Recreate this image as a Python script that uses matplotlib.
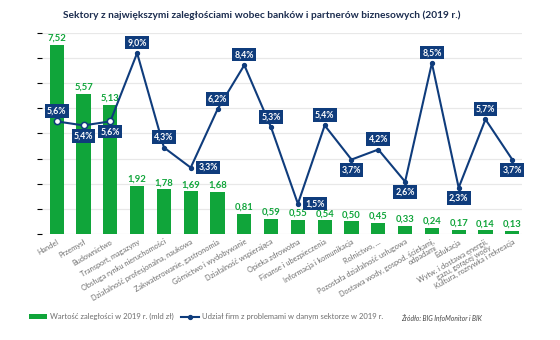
import matplotlib
matplotlib.use("Agg")
import matplotlib.pyplot as plt
from matplotlib.patches import Patch
from matplotlib.lines import Line2D

plt.rcParams['font.family'] = ['Lato', 'DejaVu Sans']

# Dane
sektory = [
    "Handel", "Przemysł", "Budownictwo", "Transport, magazyny",
    "Obsługa rynku nieruchomości", "Działalność profesjonalna, naukowa",
    "Zakwaterowanie, gastronomia", "Górnictwo i wydobywanie",
    "Działalność wspierająca", "Opieka zdrowotna", "Finanse i ubezpieczenia",
    "Informacja i komunikacja", "Rolnictwo, ...", "Pozostała działalność usługowa",
    "Dostawa wody, gospod. ściekami,\nodpadami", "Edukacja",
    "Wytw. i dostawa energii,\ngazu, gorącej wody", "Kultura, rozrywka i rekreacja",
]
zaleglosci = [7.52, 5.57, 5.13, 1.92, 1.78, 1.69, 1.68, 0.81, 0.59,
              0.55, 0.54, 0.50, 0.45, 0.33, 0.24, 0.17, 0.14, 0.13]
udzial = [5.6, 5.4, 5.6, 9.0, 4.3, 3.3, 6.2, 8.4, 5.3,
          1.5, 5.4, 3.7, 4.2, 2.6, 8.5, 2.3, 5.7, 3.7]
# gdzie umieścić etykietę procentową
pozycja = ["up", "down", "down", "up", "up", "right", "up", "up", "up",
           "right", "up", "down", "up", "down", "up", "down", "up", "down"]

ZIELONY = "#10a53a"
GRANAT = "#0f3c7c"
SZARY = "#6e6e6e"

fig = plt.figure(figsize=(5.6, 3.4), dpi=100)
ax = fig.add_axes([0.075, 0.312, 0.857, 0.591])
x = list(range(len(sektory)))

ax.bar(x, zaleglosci, width=0.53, color=ZIELONY, zorder=2)
ax.set_ylim(0, 8)
ax.set_xlim(-0.55, 17.36)
ax.set_yticks(range(0, 9))
ax.yaxis.grid(True, color="#e8e8e8", linewidth=0.9, zorder=0)
ax.set_axisbelow(True)
ax.tick_params(axis="y", left=False, labelleft=False)
ax.tick_params(axis="x", length=0, pad=3)
for s in ax.spines.values():
    s.set_visible(False)
ax.set_xticks(x)
ax.set_xticklabels(sektory, rotation=30, ha="right", rotation_mode="anchor",
                   fontsize=5.3, color=SZARY, multialignment="right",
                   linespacing=0.9)

for xi, v in zip(x, zaleglosci):
    ax.text(xi, v + 0.08, f"{v:.2f}".replace(".", ","), ha="center", va="bottom",
            fontsize=6.8, fontweight="bold", color=ZIELONY)

ax2 = ax.twinx()
ax2.set_ylim(0, 10)
ax2.axis("off")
ax2.plot(x, udzial, color=GRANAT, linewidth=1.5, zorder=3)
ax2.plot(x[3:], udzial[3:], "o", color=GRANAT, markersize=2.8, zorder=4)
ax2.plot(x[:3], udzial[:3], "o", markerfacecolor="white", markeredgecolor=GRANAT,
         markeredgewidth=1.1, markersize=4.5, zorder=4)

offsety = {"up": (0, 7.5), "down": (0, -7.5), "right": (12.5, 0)}
for xi, v, p in zip(x, udzial, pozycja):
    ax2.annotate(f"{v:.1f}%".replace(".", ","), (xi, v), xytext=offsety[p],
                 textcoords="offset points", ha="center", va="center",
                 fontsize=6.3, fontweight="bold", color="white", zorder=5,
                 bbox=dict(boxstyle="square,pad=0.25", facecolor=GRANAT,
                           edgecolor="none"))

fig.text(0.468, 0.955, "Sektory z największymi zaległościami wobec banków i partnerów biznesowych (2019 r.)",
         ha="center", va="center", fontsize=7.3, fontweight="bold", color="#1c2d4f")

uchwyty = [Patch(facecolor=ZIELONY, edgecolor="none"),
           Line2D([0], [0], color=GRANAT, linewidth=1.5, marker="o", markersize=2.8)]
fig.legend(uchwyty, ["Wartość zaległości w 2019 r. (mld zł)",
                     "Udział firm z problemami w danym sektorze w 2019 r."],
           loc="center left", bbox_to_anchor=(0.045, 0.068), ncol=2, frameon=False,
           fontsize=5.5, labelcolor=SZARY, handlelength=2.3, handleheight=0.5,
           handletextpad=0.5, columnspacing=0.9, borderpad=0)

fig.text(0.86, 0.068, "Źródło: BIG InfoMonitor i BIK", ha="right", va="center",
         fontsize=4.8, style="italic", color="#444444")

fig.savefig("out.png", dpi=100)
